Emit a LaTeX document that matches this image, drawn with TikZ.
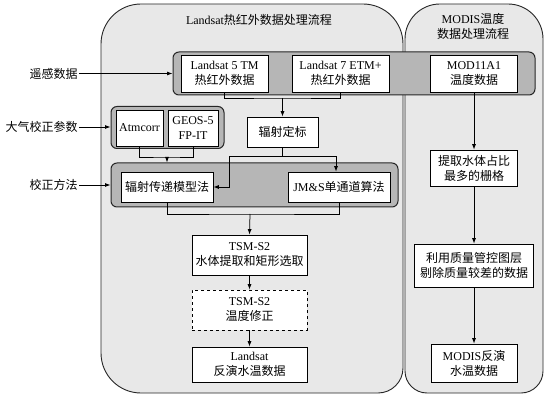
\documentclass[tikz,border=0pt]{standalone}
\usepackage{fontspec}
\setmainfont{Liberation Serif}
\newfontfamily\cjk{Noto Sans CJK SC}
\newcommand{\zh}[1]{{\cjk #1}}
\usetikzlibrary{arrows.meta}
\definecolor{panelgray}{RGB}{232,232,232}
\definecolor{bandgray}{RGB}{182,182,182}
\tikzset{
	panel/.style={draw=black!85, fill=panelgray, line width=0.9pt},
	band/.style={draw=black!85, fill=bandgray, rounded corners=6pt, line width=1pt},
	box/.style={draw=black, fill=white, align=center, inner sep=1pt, font=\fontsize{12}{15}\selectfont},
	lab/.style={anchor=east, inner sep=1pt, font=\fontsize{12}{15}\selectfont\cjk},
	arr/.style={-{Latex[length=5.5pt,width=4pt]}},
}
\begin{document}
\begin{tikzpicture}[x=1pt, y=-1pt, line width=0.75pt]
			\useasboundingbox (0,0) rectangle (548,403);
			
			% PANELS
			\draw[panel] (101,200) [rounded corners=40pt] -- (101,4) -- (403,4)
			[rounded corners=25pt] -- (403,393) [rounded corners=40pt] -- (101,393) -- cycle;
			\draw[panel] (405,200) [rounded corners=35pt] -- (405,4) -- (543,4)
			[rounded corners=22pt] -- (543,393) -- (405,393) -- cycle;
			\node[font=\fontsize{12}{15}\selectfont] (ttl) at (259,20) {Landsat\zh{热红外数据处理流程}};
			\node[align=center, font=\fontsize{12}{15}\selectfont] (ttr) at (473,26) {MODIS\zh{温度}\\\zh{数据处理流程}};
			
			% BANDS
			\node[band, minimum width=362pt, minimum height=43pt] (b1) at (354,73.5) {};
			\node[band, minimum width=113pt, minimum height=42pt] (b2) at (167.5,127.5) {};
			\node[band, minimum width=287pt, minimum height=44pt] (b3) at (254.5,185) {};
			
			% LANDSAT NODES
			\node[box, minimum width=87pt, minimum height=37pt] (l5) at (224.5,73.5) {Landsat 5 TM\\\zh{热红外数据}};
			\node[box, minimum width=97pt, minimum height=37pt] (l7) at (340.5,73.5) {Landsat 7 ETM+\\\zh{热红外数据}};
			\node[box, minimum width=71pt, minimum height=30pt] (cal) at (282.5,132) {\zh{辐射定标}};
			\node[box, minimum width=47pt, minimum height=36pt] (atm) at (139.5,128) {Atmcorr};
			\node[box, minimum width=50pt, minimum height=36pt] (geos) at (193,128) {GEOS-5\\FP-IT};
			\node[box, minimum width=92pt, minimum height=30pt] (rtm) at (167,187) {\zh{辐射传递模型法}};
			\node[box, minimum width=102pt, minimum height=30pt] (jms) at (339,187) {JM\&S\zh{单通道算法}};
			\node[box, minimum width=115pt, minimum height=40pt] (tsm) at (249.5,255) {TSM-S2\\\zh{水体提取和矩形选取}};
			\node[box, dashed, minimum width=115pt, minimum height=40pt] (corr) at (249.5,310) {TSM-S2\\\zh{温度修正}};
			\node[box, minimum width=115pt, minimum height=35pt] (lst) at (249.5,364.5) {Landsat\\\zh{反演水温数据}};
			
			% MODIS NODES
			\node[box, minimum width=87pt, minimum height=37pt] (mod) at (474,73.5) {MOD11A1\\\zh{温度数据}};
			\node[box, minimum width=87pt, minimum height=36pt] (ext) at (474,168) {\zh{提取水体占比}\\\zh{最多的栅格}};
			\node[box, minimum width=119pt, minimum height=43pt] (qc) at (474,265.5) {\zh{利用质量管控图层}\\\zh{剔除质量较差的数据}};
			\node[box, minimum width=86pt, minimum height=38pt] (mlst) at (474,363) {MODIS\zh{反演}\\\zh{水温数据}};
			
			% LABELS
			\node[lab] (t1) at (79,73.5) {遥感数据};
			\node[lab] (t2) at (79,127) {大气校正参数};
			\node[lab] (t3) at (79,185) {校正方法};
			\draw[arr] (t1.east) -- (t1.east -| b1.west);
			\draw[arr] (t2.east) -- (t2.east -| b2.west);
			\draw[arr] (t3.east) -- (t3.east -| b3.west);
			
			% DRAW CONNECTORS
			\coordinate (j1) at (282.5,98);
			\coordinate (j2) at (167,157);
			\coordinate (j3) at (282.5,156);
			\coordinate (j3l) at (229,156);
			\coordinate (j3r) at (336,156);
			\coordinate (j4) at (250,214);
			\draw (l5.south) |- (j1) -| (l7.south);
			\draw[arr] (j1) -- (cal.north);
			\draw (atm.south) |- (j2) -| (geos.south);
			\draw[arr] (j2) -- (j2 |- b3.north);
			\draw (cal.south) -- (j3);
			\draw[arr] (j3) -- (j3l) |- (rtm.east);
			\draw[arr] (j3) -- (j3r) -- (j3r |- jms.north);
			\draw (rtm.south) |- (j4) -| (jms.south);
			\draw[arr] (j4) -- (tsm.north);
			\draw[arr] (tsm) -- (corr);
			\draw[arr] (corr) -- (lst);
			\draw[arr] (mod) -- (ext);
			\draw[arr] (ext) -- (qc);
			\draw[arr] (qc) -- (mlst);
		\end{tikzpicture}
\end{document}
